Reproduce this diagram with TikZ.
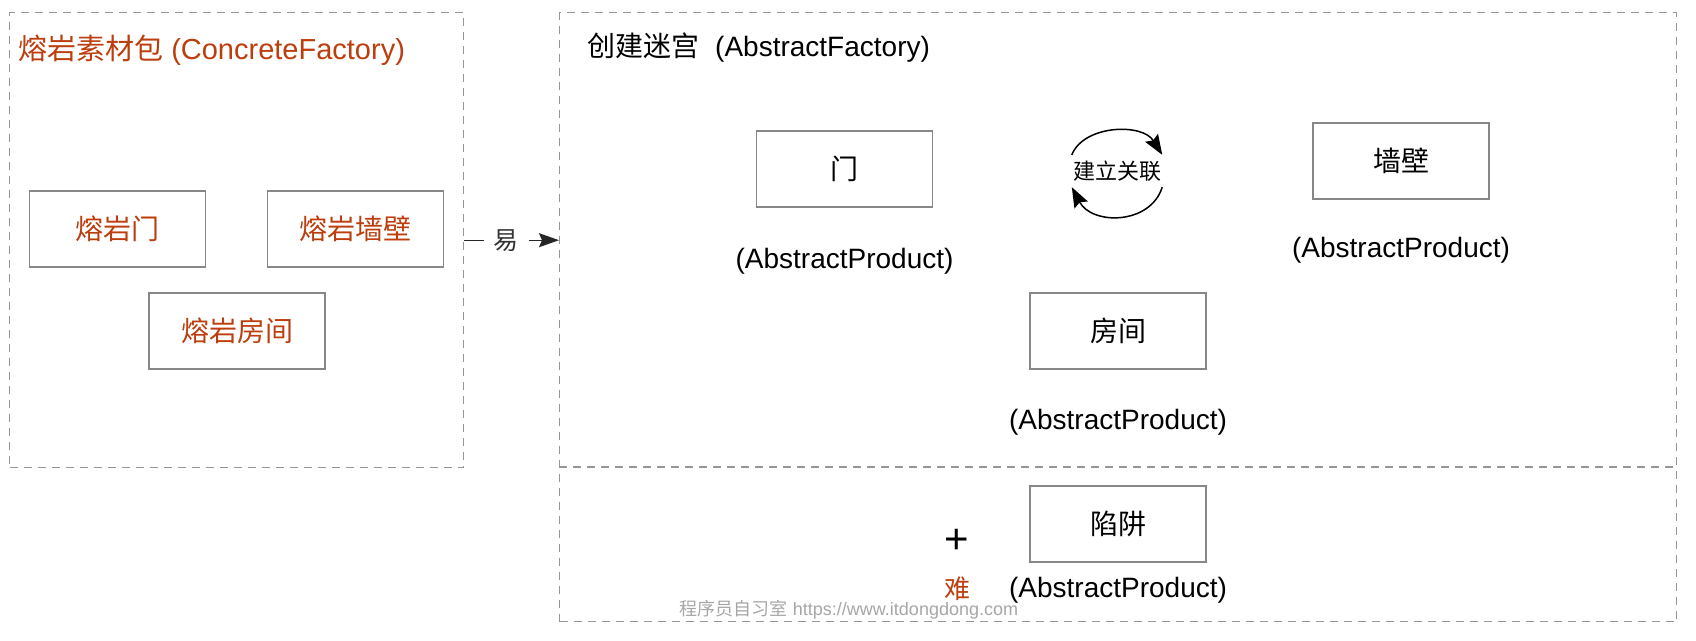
\documentclass[tikz,border=0pt]{standalone}
\usepackage{fontspec}
\setmainfont{Liberation Sans}
\newfontfamily\cjk{Noto Sans CJK SC}
\usetikzlibrary{positioning,arrows.meta}

\definecolor{lava}{RGB}{188,62,14}
\definecolor{framegray}{RGB}{150,150,150}
\definecolor{boxgray}{RGB}{135,135,135}

\tikzset{
  frame/.style={draw=framegray, line width=1.4pt, dash pattern=on 8pt off 6pt},
  part/.style={draw=boxgray, line width=1.4pt, minimum width=176pt, minimum height=76pt, font=\fontsize{28}{32}\selectfont\cjk},
  lavapart/.style={part, text=lava},
  absprod/.style={inner sep=0pt, font=\fontsize{28}{32}\selectfont},
  linkarc/.style={-{Stealth[length=20pt,width=15pt,inset=3pt]}, line width=1.5pt},
}

\begin{document}
\begin{tikzpicture}[x=1pt, y=-1pt]
    \useasboundingbox (0,0) rectangle (1696,640);
    % left frame: the lava kit
    \node[frame, anchor=north west, minimum width=454pt, minimum height=455pt] (lavapack) at (9,12) {};
    \node[anchor=west, inner sep=0pt, text=lava, font=\fontsize{29}{34}\selectfont] (lavatitle) at (18,50) {{\cjk 熔岩素材包} (ConcreteFactory)};
    \node[lavapart] (lavadoor) at (117.5,229) {熔岩门};
    \node[lavapart] (lavawall) at (355.5,229) {熔岩墙壁};
    \node[lavapart] (lavaroom) at (237,331) {熔岩房间};
    % right frame: building the maze
    \node[frame, anchor=north west, minimum width=1117pt, minimum height=609pt] (maze) at (559,12) {};
    \coordinate (split) at (0,467);
    \draw[frame] (maze.west |- split) -- (maze.east |- split);
    \node[anchor=west, inner sep=0pt, font=\fontsize{28}{32}\selectfont] (mazetitle) at (587,48) {{\cjk 创建迷宫}\hspace{16pt}(AbstractFactory)};
    \node[part] (door) at (844.5,169) {门};
    \node[part] (wall) at (1401,161) {墙壁};
    \node[part] (room) at (1118,331) {房间};
    \node[part] (trap) at (1118,524) {陷阱};
    \node[absprod, below=40pt of door] (doorkind) {(AbstractProduct)};
    \node[absprod, below=37pt of wall] (wallkind) {(AbstractProduct)};
    \node[absprod, below=39pt of room] (roomkind) {(AbstractProduct)};
    \node[absprod, below=14pt of trap] (trapkind) {(AbstractProduct)};
    % association loop
    \node[inner sep=0pt, minimum width=90pt, minimum height=32pt, font=\fontsize{22}{24}\selectfont\cjk] (link) at (1117,171) {建立关联};
    \draw[linkarc] (link.north west) .. controls +(12,-30) and +(-20,-32) .. (link.north east);
    \draw[linkarc] (link.south east) .. controls +(-12,38) and +(20,38) .. (link.south west);
    % easy / hard
    \draw[-{Stealth[length=20pt,width=14pt,inset=3pt]}, line width=1.4pt, black!85] (lavapack.east) -- node[pos=0.44, fill=white, inner xsep=10pt, inner ysep=2pt, text=black!80, font=\fontsize{25}{28}\selectfont\cjk] (easy) {易} (lavapack.east -| maze.west);
    \node[font=\fontsize{42}{46}\selectfont] (plus) at (957,541) {+};
    \node[text=lava, font=\fontsize{26}{30}\selectfont\cjk] (hard) at (957,589) {难};
    \node[text=black!35, font=\fontsize{18}{21}\selectfont] (mark) at (849,610) {{\cjk 程序员自习室} https://www.itdongdong.com};
\end{tikzpicture}
\end{document}
